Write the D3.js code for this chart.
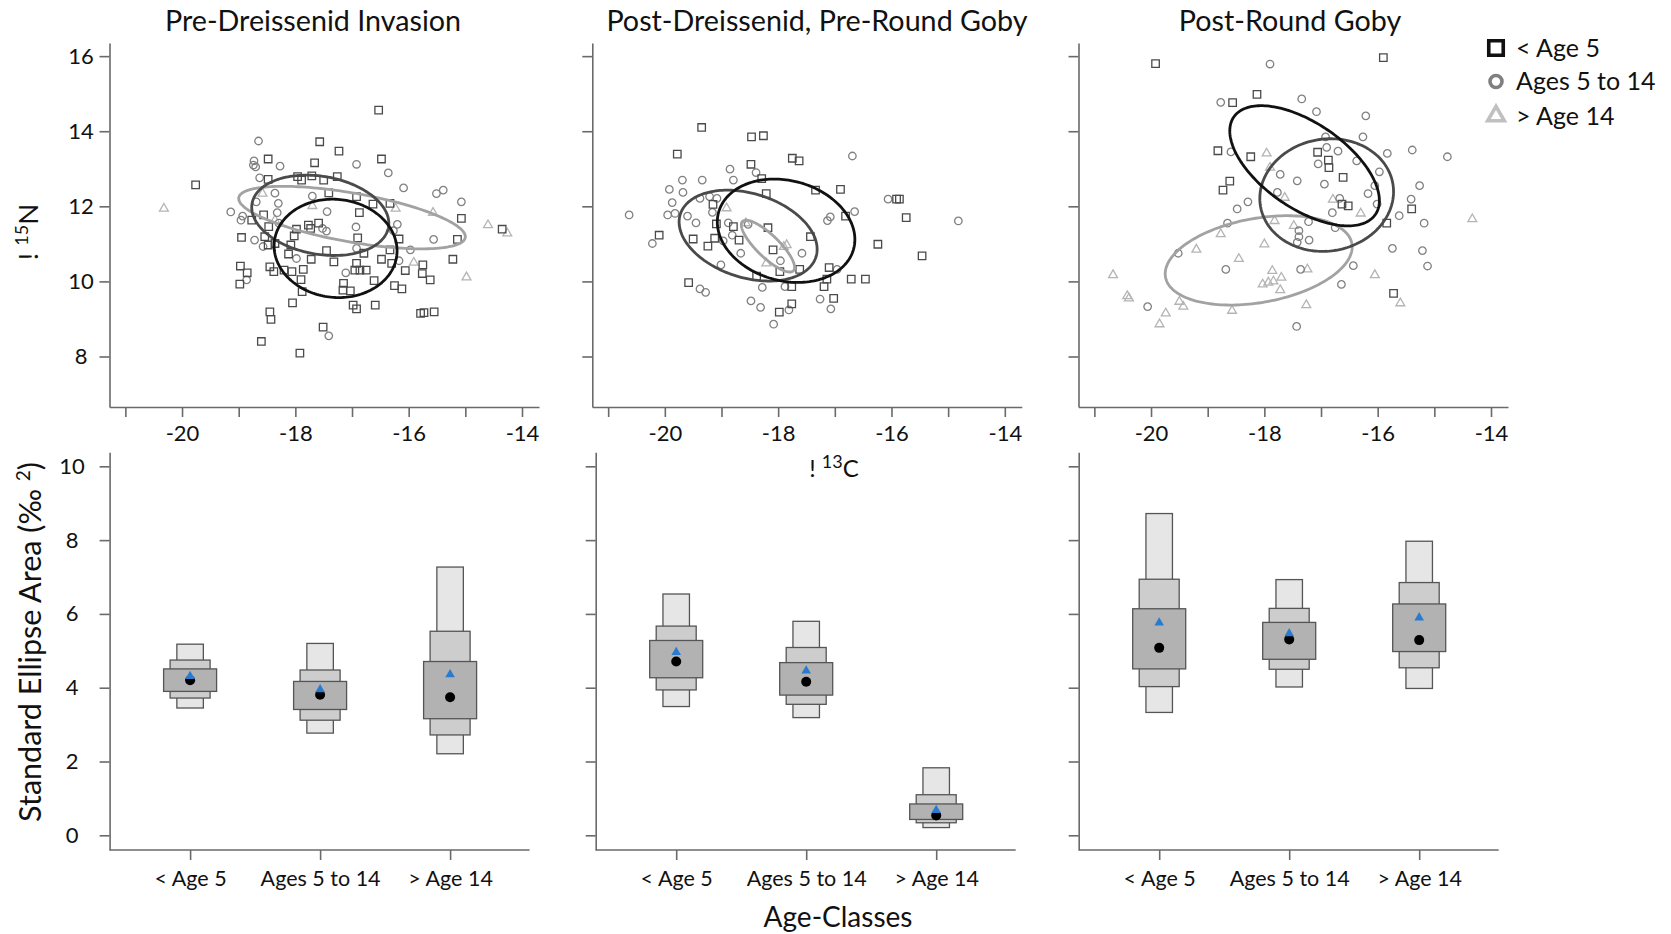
<!DOCTYPE html>
<html>
<head>
<meta charset="utf-8">
<script src="https://cdn.jsdelivr.net/npm/d3@7"></script>
<style>
  html, body { margin: 0; padding: 0; background: #fff; }
  svg { display: block; }
</style>
</head>
<body>
<svg id="chart" width="1671" height="934"></svg>
<script>
// ---------- data ----------
const periods = ["Pre-Dreissenid Invasion", "Post-Dreissenid, Pre-Round Goby", "Post-Round Goby"];
const ageClasses = ["< Age 5", "Ages 5 to 14", "> Age 14"];
const carbonTicks = [-21, -20, -19, -18, -17, -16, -15, -14];
const nitrogenTicks = [8, 10, 12, 14, 16];
const areaTicks = [0, 2, 4, 6, 8, 10];

// individual fish: [d13C, d15N]
const preYoung = [[-16.53,14.56],[-17.57,13.72],[-17.23,13.47],[-18.48,13.26],[-17.66,13.16],[-16.48,13.26],[-19.76,12.57],[-18.48,12.72],[-17.96,12.79],[-17.89,12.70],[-17.71,12.81],[-17.50,12.70],[-17.26,12.79],[-17.41,12.36],[-16.92,12.26],[-16.63,12.06],[-16.33,12.08],[-16.87,11.83],[-18.56,11.77],[-18.77,11.63],[-18.47,11.46],[-17.77,11.50],[-17.73,11.41],[-17.59,11.55],[-17.98,11.39],[-18.95,11.17],[-18.54,11.19],[-18.02,11.21],[-18.48,10.97],[-18.36,11.01],[-16.90,11.16],[-16.17,11.13],[-15.07,11.68],[-15.14,11.12],[-14.35,11.39],[-18.08,10.97],[-18.12,10.73],[-17.45,10.82],[-17.72,10.59],[-17.32,10.52],[-16.79,10.75],[-16.33,10.84],[-16.48,10.59],[-16.30,10.48],[-18.97,10.41],[-18.85,10.23],[-18.98,9.93],[-18.45,10.39],[-18.38,10.26],[-18.20,10.30],[-18.06,10.26],[-17.86,10.32],[-16.92,10.48],[-16.95,10.30],[-16.86,10.30],[-16.75,10.30],[-17.90,10.05],[-17.88,9.73],[-17.15,9.95],[-17.16,9.77],[-17.03,9.75],[-16.61,10.02],[-16.25,9.89],[-16.12,9.80],[-16.06,10.29],[-15.75,10.44],[-15.76,10.21],[-15.62,10.04],[-15.22,10.59],[-18.05,9.43],[-16.98,9.37],[-16.92,9.27],[-16.59,9.37],[-18.45,9.19],[-18.43,8.99],[-17.51,8.78],[-18.60,8.40],[-17.92,8.09],[-15.79,9.15],[-15.73,9.17],[-15.55,9.19]];
const preMid = [[-18.65,13.74],[-18.73,13.21],[-18.70,13.05],[-18.74,13.10],[-18.27,13.07],[-16.92,13.12],[-16.36,12.89],[-18.63,12.76],[-18.36,12.35],[-16.09,12.49],[-15.51,12.34],[-15.39,12.43],[-15.07,12.12],[-17.70,12.27],[-19.14,11.85],[-18.96,11.63],[-18.93,11.74],[-18.30,12.08],[-18.32,11.83],[-17.44,11.86],[-18.69,12.12],[-17.52,11.41],[-17.45,11.34],[-16.93,11.45],[-16.20,11.52],[-16.27,11.35],[-18.72,11.10],[-18.57,10.93],[-16.92,10.88],[-17.98,10.61],[-17.11,10.23],[-15.97,10.84],[-15.56,11.12],[-18.86,10.04],[-17.41,8.55],[-16.17,10.55],[-18.29,11.55]];
const preOld = [[-20.32,11.94],[-17.70,12.01],[-16.23,11.94],[-15.57,11.83],[-14.60,11.50],[-14.26,11.28],[-15.91,10.50],[-14.98,10.11],[-18.58,12.34],[-18.36,11.63]];

const postDYoung = [[-19.35,14.10],[-18.47,13.85],[-18.26,13.88],[-19.78,13.39],[-18.48,13.12],[-17.75,13.28],[-17.63,13.21],[-18.29,12.74],[-18.21,12.34],[-17.34,12.43],[-16.90,12.45],[-15.86,12.19],[-15.74,11.70],[-16.81,11.74],[-19.15,12.05],[-19.09,11.53],[-18.79,11.46],[-18.18,11.43],[-20.10,11.23],[-19.50,11.13],[-19.12,11.15],[-18.69,11.10],[-19.24,10.94],[-18.09,10.84],[-17.43,11.19],[-16.24,10.99],[-15.46,10.68],[-18.38,10.14],[-17.97,10.26],[-17.62,10.32],[-17.10,10.37],[-17.14,10.06],[-16.71,10.06],[-16.46,10.06],[-19.58,9.97],[-17.76,9.86],[-17.19,9.86],[-17.02,9.55],[-17.76,9.40],[-17.98,9.18],[-15.91,12.19]];
const postDMid = [[-16.69,13.34],[-18.85,12.99],[-18.39,12.90],[-19.69,12.70],[-19.34,12.70],[-18.79,12.70],[-19.92,12.45],[-19.68,12.37],[-19.87,12.10],[-19.38,12.21],[-19.21,12.26],[-19.08,12.21],[-20.63,11.77],[-19.95,11.77],[-19.82,11.81],[-19.60,11.74],[-19.16,11.84],[-19.45,11.56],[-18.88,11.56],[-18.53,11.52],[-18.81,11.23],[-18.97,11.08],[-20.22,11.01],[-16.06,12.19],[-14.82,11.61],[-16.65,11.86],[-17.08,11.72],[-17.13,11.62],[-18.66,10.75],[-17.96,10.55],[-17.58,10.75],[-19.01,10.44],[-16.96,10.32],[-19.38,9.80],[-19.28,9.71],[-18.28,9.84],[-17.88,9.86],[-18.48,9.48],[-18.31,9.31],[-17.81,9.24],[-17.26,9.53],[-17.07,9.27],[-18.08,8.86]];
const postDOld = [[-17.90,10.92],[-18.21,10.48],[-17.85,10.97],[-18.57,11.55],[-18.91,11.95]];

const postRYoung = [[-19.92,15.80],[-15.90,15.96],[-18.56,14.76],[-18.13,14.98],[-18.82,13.48],[-18.24,13.32],[-17.06,13.44],[-16.87,13.23],[-16.86,13.03],[-16.61,12.77],[-18.61,12.67],[-18.73,12.43],[-16.63,12.06],[-16.52,12.01],[-15.40,11.93],[-15.84,11.55],[-15.72,9.68]];
const postRMid = [[-17.90,15.79],[-18.77,14.77],[-17.34,14.86],[-17.08,14.52],[-16.21,14.41],[-16.26,13.85],[-16.92,13.85],[-16.90,13.57],[-16.70,13.47],[-18.59,13.45],[-15.83,13.41],[-15.39,13.50],[-14.77,13.32],[-17.05,13.13],[-16.37,13.21],[-15.97,12.92],[-17.72,12.85],[-17.42,12.68],[-16.94,12.59],[-15.26,12.55],[-16.05,12.55],[-17.77,12.37],[-16.17,12.34],[-15.41,12.19],[-18.29,12.12],[-18.48,11.93],[-16.67,12.21],[-16.01,12.06],[-16.80,11.83],[-15.62,11.75],[-15.18,11.55],[-18.65,11.55],[-17.22,11.59],[-16.75,11.43],[-17.39,11.35],[-17.39,11.19],[-17.42,11.04],[-17.21,11.10],[-15.74,10.88],[-15.21,10.82],[-19.52,10.75],[-15.12,10.41],[-16.43,10.42],[-18.68,10.32],[-17.36,10.32],[-16.64,9.92],[-20.06,9.33],[-17.43,8.80]];
const postROld = [[-17.96,13.41],[-17.90,13.03],[-17.64,12.23],[-16.79,12.18],[-16.30,11.81],[-17.82,11.61],[-17.48,11.48],[-18.77,11.26],[-18.00,10.99],[-19.20,10.85],[-18.45,10.60],[-17.24,10.32],[-17.86,10.28],[-17.70,10.10],[-18.03,9.92],[-17.93,9.97],[-17.84,10.00],[-17.72,9.77],[-20.67,10.17],[-20.42,9.61],[-20.39,9.55],[-19.50,9.46],[-19.43,9.33],[-19.74,9.15],[-19.85,8.86],[-18.57,9.22],[-17.26,9.37],[-16.05,10.17],[-15.60,9.42],[-14.33,11.66]];

// standard ellipses per age class: [mean d13C, mean d15N, sd d13C, sd d15N, correlation]
const preEllipses   = [[-17.29,10.88,1.085,1.31,-0.05],[-17.56,11.76,1.21,1.07,-0.20],[-17.00,11.70,2.00,0.833,-0.61]];
const postDEllipses = [[-17.86,11.35,1.214,1.376,-0.17],[-18.53,11.22,1.218,1.21,-0.30],[-18.18,10.94,0.47,0.69,-0.82]];
const postREllipses = [[-17.29,13.08,1.32,1.60,-0.58],[-16.90,12.30,1.18,1.50,0.06],[-18.10,10.56,1.65,1.19,0.30]];

// Bayesian SEA posteriors per age class: [lo95, lo75, lo50, hi50, hi75, hi95]
const preSEA   = [[3.45,3.72,3.90,4.51,4.75,5.18],[2.77,3.12,3.41,4.17,4.48,5.20],[2.21,2.72,3.16,4.71,5.53,7.27]];
const postDSEA = [[3.49,3.94,4.27,5.28,5.67,6.54],[3.19,3.55,3.80,4.68,5.09,5.80],[0.21,0.34,0.43,0.85,1.10,1.83]];
const postRSEA = [[3.33,4.03,4.51,6.14,6.94,8.72],[4.02,4.50,4.77,5.77,6.15,6.93],[3.98,4.54,4.98,6.27,6.85,7.97]];
const preMode   = [4.20, 3.81, 3.74];
const postDMode = [4.71, 4.16, 0.54];
const postRMode = [5.08, 5.31, 5.29];
const preSEAc   = [4.31, 3.95, 4.36];
const postDSEAc = [4.96, 4.46, 0.68];
const postRSEAc = [5.76, 5.47, 5.90];

// ---------- layout ----------
const FONT = "Lato, 'Open Sans', sans-serif";
const svg = d3.select("#chart");
svg.append("rect").attr("width", 1671).attr("height", 934).attr("fill", "#fff");

const topX0 = [109.5, 592.3, 1078.5], topW = 429.5, topTop = 43, topBottom = 407;
const botX0 = [109.6, 595.7, 1078.7], botW = 420, botTop = 452.3, botBottom = 850;
const titleX = [313, 817, 1290];
const AXIS = "#6a6a6a";

const groups = [
  { pts: [preYoung, preMid, preOld], ell: preEllipses, sea: preSEA, mode: preMode, seac: preSEAc },
  { pts: [postDYoung, postDMid, postDOld], ell: postDEllipses, sea: postDSEA, mode: postDMode, seac: postDSEAc },
  { pts: [postRYoung, postRMid, postROld], ell: postREllipses, sea: postRSEA, mode: postRMode, seac: postRSEAc }
];

// marker styles per age class
const markerSym = [d3.symbolSquare, d3.symbolCircle, d3.symbolTriangle];
const markerSize = [56, 44, 34];
const markerStroke = ["#4a4a4a", "#808080", "#b4b4b4"];
const ellipseStroke = ["#111111", "#4a4a4a", "#a2a2a2"];

const yIso = d3.scaleLinear().domain([6.655, 16.35]).range([topBottom, topTop]);
const yArea = d3.scaleLinear().domain([-0.398, 10.38]).range([botBottom, botTop]);

function styleAxis(g, fs) {
  g.attr("font-family", FONT).attr("font-size", fs);
  g.select(".domain").attr("stroke", AXIS).attr("stroke-width", 1.6);
  g.selectAll(".tick line").attr("stroke", AXIS).attr("stroke-width", 1.6);
  g.selectAll(".tick text").attr("fill", "#111");
}

function ellipsePath(e, x, y) {
  const [mx, my, sx, sy, r] = e;
  const k = Math.sqrt(1 - r * r);
  const ts = d3.range(0, 2 * Math.PI, Math.PI / 90);
  return d3.line().curve(d3.curveLinearClosed)(
    ts.map(t => [x(mx + sx * Math.cos(t)), y(my + sy * (r * Math.cos(t) + k * Math.sin(t)))])
  );
}

groups.forEach((grp, i) => {
  // ---- isotope biplot ----
  const x = d3.scaleLinear().domain([-21.28, -13.7]).range([topX0[i], topX0[i] + topW]);
  const gx = svg.append("g").attr("transform", `translate(0,${topBottom})`)
    .call(d3.axisBottom(x).tickValues(carbonTicks).tickSize(10).tickSizeOuter(0).tickPadding(8)
      .tickFormat(d => d % 2 === 0 ? String(d) : ""));
  styleAxis(gx, 22);
  const gy = svg.append("g").attr("transform", `translate(${topX0[i]},0)`)
    .call(d3.axisLeft(yIso).tickValues(nitrogenTicks).tickSize(10).tickSizeOuter(0)
      .tickFormat(d => i === 0 ? String(d) : ""));
  styleAxis(gy, 22);
  gy.selectAll(".tick text").attr("text-anchor", "middle").attr("x", -28.5);

  const plot = svg.append("g");
  [2, 1, 0].forEach(c => {
    plot.append("g").selectAll("path").data(grp.pts[c]).join("path")
      .attr("transform", d => `translate(${x(d[0])},${yIso(d[1])})`)
      .attr("d", d3.symbol(markerSym[c], markerSize[c]))
      .attr("fill", "none").attr("stroke", markerStroke[c]).attr("stroke-width", 1.3);
  });
  [2, 1, 0].forEach(c => {
    plot.append("path").attr("d", ellipsePath(grp.ell[c], x, yIso))
      .attr("fill", "none").attr("stroke", ellipseStroke[c]).attr("stroke-width", 2.8);
  });

  svg.append("text").attr("x", titleX[i]).attr("y", 31).attr("text-anchor", "middle")
    .attr("font-family", FONT).attr("font-size", 28.7).attr("fill", "#111").text(periods[i]);

  // ---- SEA posterior boxes ----
  const xc = d3.scalePoint().domain(ageClasses).range([botX0[i] + 80.5, botX0[i] + 340.5]);
  const bx = svg.append("g").attr("transform", `translate(0,${botBottom})`)
    .call(d3.axisBottom(xc).tickSize(10).tickPadding(11).tickSizeOuter(0));
  bx.select(".domain").attr("d", `M${botX0[i]},0H${botX0[i] + botW}`);
  styleAxis(bx, 21.5);
  const by = svg.append("g").attr("transform", `translate(${botX0[i]},0)`)
    .call(d3.axisLeft(yArea).tickValues(areaTicks).tickSize(10).tickSizeOuter(0)
      .tickFormat(d => i === 0 ? String(d) : ""));
  styleAxis(by, 22);
  by.selectAll(".tick text").attr("text-anchor", "middle").attr("x", -37.6);

  const boxW = [26.5, 40, 53];
  const boxFill = ["#e6e6e6", "#cdcdcd", "#b2b2b2"];
  const bg = svg.append("g");
  ageClasses.forEach((a, c) => {
    const s = grp.sea[c];
    const levels = [[s[0], s[5]], [s[1], s[4]], [s[2], s[3]]];
    levels.forEach((lv, k) => {
      bg.append("rect")
        .attr("x", xc(a) - boxW[k] / 2).attr("width", boxW[k])
        .attr("y", yArea(lv[1])).attr("height", yArea(lv[0]) - yArea(lv[1]))
        .attr("fill", boxFill[k]).attr("stroke", "#555").attr("stroke-width", 1.3);
    });
    bg.append("circle").attr("cx", xc(a)).attr("cy", yArea(grp.mode[c])).attr("r", 5).attr("fill", "#000");
    bg.append("path")
      .attr("transform", `translate(${xc(a)},${yArea(grp.seac[c])})`)
      .attr("d", d3.symbol(d3.symbolTriangle, 40)).attr("fill", "#2a7bd0");
  });
});

// ---------- axis titles ----------
const yl = svg.append("text").attr("transform", "translate(38,232) rotate(-90)")
  .attr("text-anchor", "middle").attr("font-family", FONT).attr("font-size", 27.5).attr("fill", "#111");
yl.append("tspan").text("! ");
yl.append("tspan").attr("font-size", 18).attr("dy", -10).text("15");
yl.append("tspan").attr("dy", 10).text("N");

const xl = svg.append("text").attr("x", 834).attr("y", 477)
  .attr("text-anchor", "middle").attr("font-family", FONT).attr("font-size", 24).attr("fill", "#111");
xl.append("tspan").text("!  ");
xl.append("tspan").attr("font-size", 18).attr("dy", -9).text("13");
xl.append("tspan").attr("dy", 9).text("C");

const al = svg.append("text").attr("transform", "translate(41,642) rotate(-90)")
  .attr("text-anchor", "middle").attr("font-family", FONT).attr("font-size", 30.5).attr("fill", "#111");
al.append("tspan").text("Standard Ellipse Area (‰ ");
al.append("tspan").attr("font-size", 19).attr("dy", -11).text("2");
al.append("tspan").attr("dy", 11).text(")");

svg.append("text").attr("x", 838).attr("y", 927).attr("text-anchor", "middle")
  .attr("font-family", FONT).attr("font-size", 28).attr("fill", "#111").text("Age-Classes");

// ---------- legend ----------
const legend = svg.append("g").attr("transform", "translate(1496,0)");
const legY = [48, 81.5, 116];
const legSym = [d3.symbolSquare, d3.symbolCircle, d3.symbolTriangle];
const legSize = [210, 113, 120];
const legStroke = ["#111", "#808080", "#c0c0c0"];
ageClasses.forEach((a, c) => {
  legend.append("path").attr("transform", `translate(0,${legY[c]})`)
    .attr("d", d3.symbol(legSym[c], legSize[c])).attr("fill", "none")
    .attr("stroke", legStroke[c]).attr("stroke-width", 3.6);
  legend.append("text").attr("x", 20).attr("y", legY[c] + 8.5)
    .attr("font-family", FONT).attr("font-size", 25).attr("fill", "#111").text(a);
});
</script>
</body>
</html>
